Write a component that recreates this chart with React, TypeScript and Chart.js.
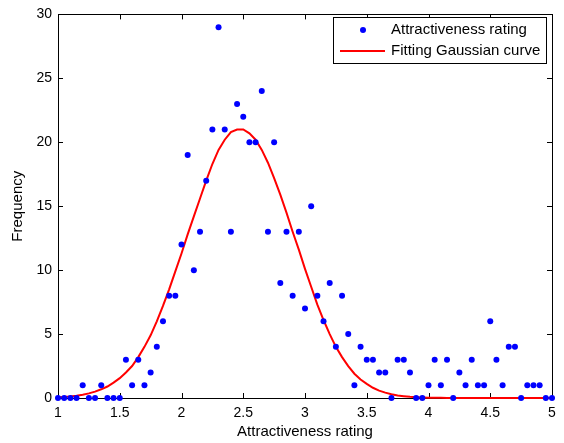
import React, { useEffect, useRef } from "react";
import { Chart, registerables } from "chart.js";

Chart.register(...registerables);

const ratings = [
  1.0, 1.05, 1.1, 1.15, 1.2, 1.25, 1.3, 1.35, 1.4, 1.45,
  1.5, 1.55, 1.6, 1.65, 1.7, 1.75, 1.8, 1.85, 1.9, 1.95,
  2.0, 2.05, 2.1, 2.15, 2.2, 2.25, 2.3, 2.35, 2.4, 2.45,
  2.5, 2.55, 2.6, 2.65, 2.7, 2.75, 2.8, 2.85, 2.9, 2.95,
  3.0, 3.05, 3.1, 3.15, 3.2, 3.25, 3.3, 3.35, 3.4, 3.45,
  3.5, 3.55, 3.6, 3.65, 3.7, 3.75, 3.8, 3.85, 3.9, 3.95,
  4.0, 4.05, 4.1, 4.15, 4.2, 4.25, 4.3, 4.35, 4.4, 4.45,
  4.5, 4.55, 4.6, 4.65, 4.7, 4.75, 4.8, 4.85, 4.9, 4.95,
  5.0,
];

const frequency = [
  0, 0, 0, 0, 1, 0, 0, 1, 0, 0,
  0, 3, 1, 3, 1, 2, 4, 6, 8, 8,
  12, 19, 10, 13, 17, 21, 29, 21, 13, 23,
  22, 20, 20, 24, 13, 20, 9, 13, 8, 13,
  7, 15, 8, 6, 9, 4, 8, 5, 1, 4,
  3, 3, 2, 2, 0, 3, 3, 2, 0, 0,
  1, 3, 1, 3, 0, 2, 1, 3, 1, 1,
  6, 3, 1, 4, 4, 0, 1, 1, 1, 0,
  0,
];

const gaussianFit = [
  0.05, 0.08, 0.12, 0.18, 0.26, 0.36, 0.5, 0.68, 0.9, 1.2,
  1.55, 2.0, 2.5, 3.2, 4.0, 4.9, 6.0, 7.2, 8.5, 9.9,
  11.3, 12.8, 14.2, 15.6, 17.0, 18.3, 19.4, 20.2, 20.8, 21.0,
  21.0, 20.7, 20.2, 19.4, 18.4, 17.2, 15.9, 14.5, 13.0, 11.6,
  10.1, 8.7, 7.3, 6.1, 5.0, 4.0, 3.2, 2.5, 1.9, 1.45,
  1.1, 0.8, 0.58, 0.42, 0.3, 0.2, 0.14, 0.09, 0.06, 0.04,
  0.02, 0.01, 0.01, 0, 0, 0, 0, 0, 0, 0,
  0, 0, 0, 0, 0, 0, 0, 0, 0, 0,
  0,
];

const xTicks = [1, 1.5, 2, 2.5, 3, 3.5, 4, 4.5, 5];
const yTicks = [0, 5, 10, 15, 20, 25, 30];
const legendLabels = ["Attractiveness rating", "Fitting Gaussian curve"];

const FONT = '"Liberation Sans", Arial, sans-serif';

const axesPlugin = {
  id: "matlabAxes",
  beforeDatasetsDraw(chart: any) {
    const { ctx, chartArea } = chart;
    const { left, right, top, bottom } = chartArea;
    const xs = chart.scales.x;
    const ys = chart.scales.y;
    ctx.save();
    ctx.strokeStyle = "#000";
    ctx.lineWidth = 1;
    ctx.beginPath();
    for (const v of xTicks) {
      const px = Math.round(xs.getPixelForValue(v)) + 0.5;
      ctx.moveTo(px, bottom);
      ctx.lineTo(px, bottom - 5);
      ctx.moveTo(px, top);
      ctx.lineTo(px, top + 5);
    }
    for (const v of yTicks) {
      const py = Math.round(ys.getPixelForValue(v)) + 0.5;
      ctx.moveTo(left, py);
      ctx.lineTo(left + 5, py);
      ctx.moveTo(right, py);
      ctx.lineTo(right - 5, py);
    }
    ctx.stroke();
    ctx.strokeRect(Math.round(left) + 0.5, Math.round(top) + 0.5, Math.round(right - left), Math.round(bottom - top));
    ctx.restore();
  },
  afterDraw(chart: any) {
    const { ctx } = chart;
    const bx = 333, by = 17, bw = 213, bh = 46;
    ctx.save();
    ctx.fillStyle = "#fff";
    ctx.fillRect(bx, by, bw, bh);
    ctx.strokeStyle = "#000";
    ctx.lineWidth = 1;
    ctx.strokeRect(bx + 0.5, by + 0.5, bw, bh);
    ctx.fillStyle = "#0000ff";
    ctx.beginPath();
    ctx.arc(363, 30, 3, 0, Math.PI * 2);
    ctx.fill();
    ctx.strokeStyle = "#ff0000";
    ctx.lineWidth = 2;
    ctx.beginPath();
    ctx.moveTo(340, 51);
    ctx.lineTo(385, 51);
    ctx.stroke();
    ctx.fillStyle = "#000";
    ctx.font = `15px ${FONT}`;
    ctx.textBaseline = "middle";
    ctx.textAlign = "left";
    ctx.fillText(legendLabels[0], 391, 30);
    ctx.fillText(legendLabels[1], 391, 51);
    ctx.restore();
  },
};

export default function App() {
  const ref = useRef<HTMLCanvasElement | null>(null);

  useEffect(() => {
    document.body.style.margin = "0";
    if (!ref.current) return;
    const chart = new Chart(ref.current, {
      type: "scatter",
      data: {
        datasets: [
          {
            label: legendLabels[0],
            data: ratings.map((x, i) => ({ x, y: frequency[i] })),
            showLine: false,
            pointRadius: 3,
            pointHoverRadius: 3,
            pointBackgroundColor: "#0000ff",
            pointBorderColor: "#0000ff",
            pointBorderWidth: 0,
            clip: false as any,
          },
          {
            label: legendLabels[1],
            data: ratings.map((x, i) => ({ x, y: gaussianFit[i] })),
            showLine: true,
            borderColor: "#ff0000",
            borderWidth: 2,
            pointRadius: 0,
            tension: 0,
            clip: false as any,
          },
        ],
      },
      options: {
        animation: false,
        responsive: false,
        devicePixelRatio: 1,
        layout: { padding: { left: 0, top: 10, right: 12, bottom: 0 } },
        plugins: {
          legend: { display: false },
          tooltip: { enabled: false },
        },
        scales: {
          x: {
            type: "linear",
            min: 1,
            max: 5,
            grid: { display: false, drawTicks: false },
            border: { display: false },
            afterBuildTicks: (s: any) => {
              s.ticks = xTicks.map((v) => ({ value: v }));
            },
            afterFit: (s: any) => {
              s.height = 45;
            },
            ticks: {
              color: "#000",
              font: { family: FONT, size: 14 },
              padding: 7,
              maxRotation: 0,
              autoSkip: false,
              callback: (v: any) => String(v),
            },
            title: {
              display: true,
              text: "Attractiveness rating",
              color: "#000",
              font: { family: FONT, size: 15 },
              padding: { top: 0, bottom: 2 },
            },
          },
          y: {
            type: "linear",
            min: 0,
            max: 30,
            grid: { display: false, drawTicks: false },
            border: { display: false },
            afterBuildTicks: (s: any) => {
              s.ticks = yTicks.map((v) => ({ value: v }));
            },
            afterFit: (s: any) => {
              s.width = 58;
            },
            ticks: {
              color: "#000",
              font: { family: FONT, size: 14 },
              padding: 6,
              autoSkip: false,
              callback: (v: any) => String(v),
            },
            title: {
              display: true,
              text: "Frequency",
              color: "#000",
              font: { family: FONT, size: 15 },
              padding: { top: 9, bottom: 0 },
            },
          },
        },
      },
      plugins: [axesPlugin],
    });
    return () => chart.destroy();
  }, []);

  return (
    <div style={{ width: 564, height: 443, background: "#fff" }}>
      <canvas ref={ref} width={564} height={443} style={{ display: "block" }} />
    </div>
  );
}
